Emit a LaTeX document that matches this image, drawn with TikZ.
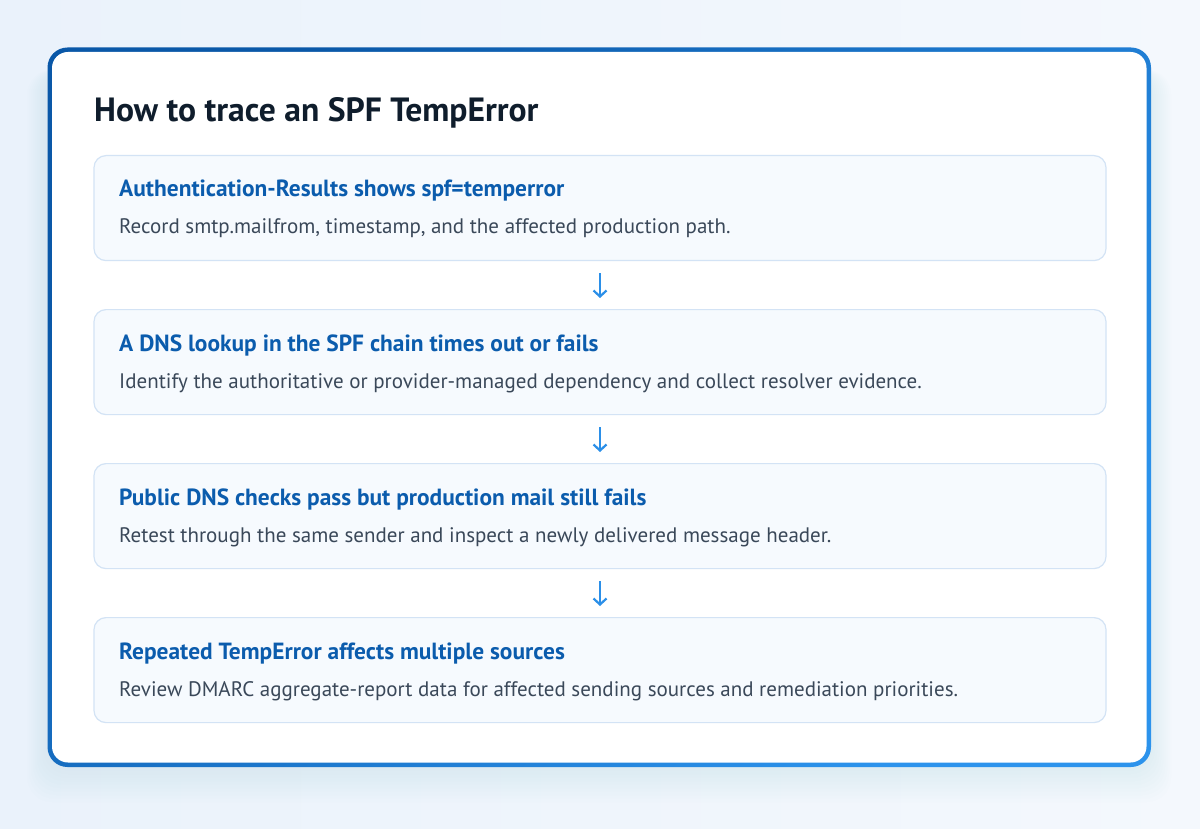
\documentclass[tikz,border=0pt]{standalone}
\usepackage{fontspec}
\setmainfont{PT Sans}
\usetikzlibrary{arrows.meta}
\definecolor{bgA}{HTML}{EAF2FB}
\definecolor{bgB}{HTML}{F4F8FD}
\definecolor{frameA}{HTML}{0A58A8}
\definecolor{frameB}{HTML}{2C93EC}
\definecolor{shadowc}{HTML}{B5D3F2}
\definecolor{cardfill}{HTML}{F6FAFE}
\definecolor{cardline}{HTML}{D3E3F5}
\definecolor{titlec}{HTML}{0F1D2C}
\definecolor{headc}{HTML}{0B5CAD}
\definecolor{bodyc}{HTML}{3A4859}
\definecolor{arrowc}{HTML}{2B8FE8}
\tikzset{
card/.style={draw=cardline, line width=1.2pt, fill=cardfill, rounded corners=12pt,
  minimum width=1012pt, minimum height=105pt, inner sep=0pt},
head/.style={inner sep=0pt, text=headc, font=\fontsize{23.4}{28}\selectfont\bfseries},
body/.style={inner sep=0pt, text=bodyc, font=\fontsize{21}{25}\selectfont},
flow/.style={draw=arrowc, line width=2.2pt, shorten <=12pt, shorten >=11pt,
  -{Straight Barb[length=6pt,width=13pt]}}
}
\newcommand{\card}[4]{
\node[card, anchor=north] (#1) at (600,#2) {};
\node[head, anchor=base west] (#1h) at (119,#2+42) {#3};
\node[body, anchor=base west] (#1t) at (119,#2+79) {#4};}

\begin{document}
\begin{tikzpicture}[x=1pt,y=-1pt]
\useasboundingbox (0,0) rectangle (1200,829);
\shade[left color=bgA, right color=bgB] (0,0) rectangle (1200,829);
% soft shadow under the frame
\foreach \i in {1,...,10}{
	\fill[shadowc, opacity=0.025, rounded corners=24pt] (47.5-\i*2,70) rectangle (1151+\i*2,767+\i*3.5);
}
\shade[rounded corners=20pt, top color=frameA, bottom color=frameB, shading angle=45] (47.5,47.5) rectangle (1151,767);
\fill[white, rounded corners=16pt] (52,52) rectangle (1146.5,762.5);

\node[anchor=base west, inner sep=0pt, text=titlec, font=\fontsize{33.6}{40}\selectfont\bfseries] (title) at (94,122) {How to trace an SPF TempError};

\card{s1}{155}{Authentication-Results shows spf=temperror}{Record smtp.mailfrom, timestamp, and the affected production path.}
\card{s2}{309}{A DNS lookup in the SPF chain times out or fails}{Identify the authoritative or provider-managed dependency and collect resolver evidence.}
\card{s3}{463}{Public DNS checks pass but production mail still fails}{Retest through the same sender and inspect a newly delivered message header.}
\card{s4}{617}{Repeated TempError affects multiple sources}{Review DMARC aggregate-report data for affected sending sources and remediation priorities.}

\foreach \a/\b in {s1/s2,s2/s3,s3/s4}{
	\draw[flow] (\a.south) -- (\b.north);
}
\end{tikzpicture}
\end{document}
